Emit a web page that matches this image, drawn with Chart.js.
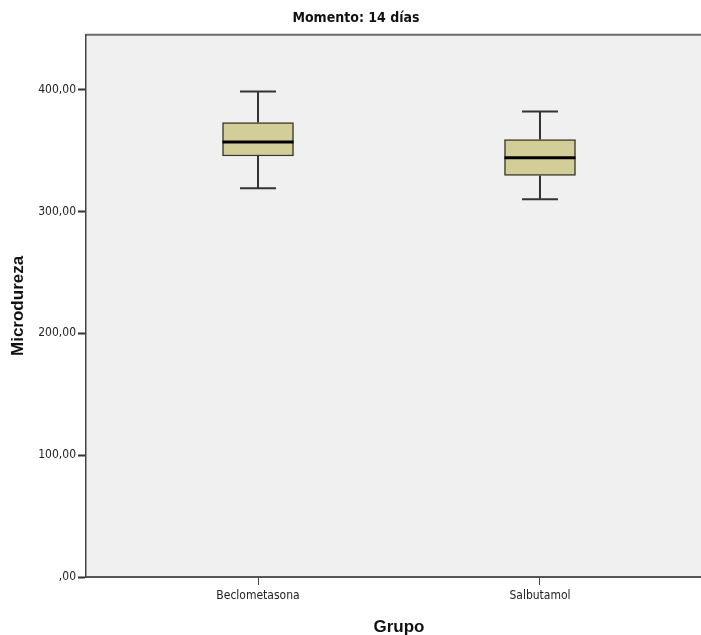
<!DOCTYPE html>
<html>
<head>
<meta charset="utf-8">
<script src="https://cdn.jsdelivr.net/npm/chart.js@4.4.1/dist/chart.umd.min.js"></script>
<style>
  html, body { margin: 0; padding: 0; background: #fff; overflow: hidden; }
  #wrap { width: 712px; height: 635px; }
</style>
</head>
<body>
<div id="wrap"><canvas id="myChart"></canvas></div>
<script>
// datos
const categories = ['Beclometasona', 'Salbutamol'];
const whiskerLow = [319, 310];
const q1 = [345.5, 329.5];
const median = [357, 344];
const q3 = [373, 359];
const whiskerHigh = [398.5, 382];
const yTicks = [0, 100, 200, 300, 400];

const narrow = "'Liberation Sans Narrow', 'DejaVu Sans Condensed', Arial, sans-serif";

// fondo gris del área y borde superior
const plotBg = {
    id: 'plotBg',
    beforeDraw(chart) {
        const { ctx, chartArea: a } = chart;
        ctx.save();
        ctx.fillStyle = '#f0f0f0';
        ctx.fillRect(a.left, a.top, a.right - a.left, a.bottom - a.top);
        ctx.strokeStyle = '#6a6a6a';
        ctx.lineWidth = 2;
        ctx.beginPath();
        ctx.moveTo(a.left, a.top);
        ctx.lineTo(a.right, a.top);
        ctx.stroke();
        ctx.restore();
    }
};

// bigotes y mediana
const whiskers = {
    id: 'whiskers',
    afterDatasetsDraw(chart) {
        const { ctx, scales: { x, y } } = chart;
        ctx.save();
        categories.forEach((c, i) => {
            const px = x.getPixelForValue(i + 1);
            ctx.strokeStyle = '#333';
            ctx.lineWidth = 2;
            ctx.beginPath();
            ctx.moveTo(px, y.getPixelForValue(whiskerLow[i]));
            ctx.lineTo(px, y.getPixelForValue(q1[i]));
            ctx.moveTo(px, y.getPixelForValue(q3[i]));
            ctx.lineTo(px, y.getPixelForValue(whiskerHigh[i]));
            ctx.moveTo(px - 18, y.getPixelForValue(whiskerLow[i]));
            ctx.lineTo(px + 18, y.getPixelForValue(whiskerLow[i]));
            ctx.moveTo(px - 18, y.getPixelForValue(whiskerHigh[i]));
            ctx.lineTo(px + 18, y.getPixelForValue(whiskerHigh[i]));
            ctx.stroke();
            ctx.strokeStyle = '#000';
            ctx.lineWidth = 3;
            ctx.beginPath();
            ctx.moveTo(px - 35.5, y.getPixelForValue(median[i]));
            ctx.lineTo(px + 35.5, y.getPixelForValue(median[i]));
            ctx.stroke();
        });
        ctx.restore();
    }
};

const ctx = document.getElementById('myChart').getContext('2d');
const myChart = new Chart(ctx, {
    type: 'bar',
    data: {
        datasets: [{
            data: categories.map((c, i) => ({ x: i + 1, y: [q1[i], q3[i]] })),
            backgroundColor: '#d3ce97',
            borderColor: '#3a3a2a',
            borderWidth: 1.5,
            borderSkipped: false,
            barThickness: 71
        }]
    },
    options: {
        responsive: true,
        maintainAspectRatio: false,
        animation: false,
        layout: { padding: 0 },
        plugins: {
            legend: { display: false },
            tooltip: { enabled: false },
            title: {
                display: true,
                text: 'Momento: 14 días',
                color: '#111',
                font: { family: narrow, size: 14, weight: 'bold' },
                padding: { top: 10, bottom: 8 }
            }
        },
        scales: {
            x: {
                type: 'linear',
                offset: false,
                min: 0.39,
                max: 2.61,
                afterBuildTicks: s => { s.ticks = categories.map((c, i) => ({ value: i + 1 })); },
                afterFit: s => { s.height = 58; },
                grid: { offset: false, drawOnChartArea: false, tickLength: 8, color: '#444', tickWidth: 1 },
                border: { color: '#555', width: 2 },
                ticks: {
                    padding: 4,
                    color: '#222',
                    font: { family: narrow, size: 12 },
                    callback: v => categories[v - 1]
                },
                title: {
                    display: true,
                    text: 'Grupo',
                    color: '#111',
                    font: { family: 'Arial, Liberation Sans, sans-serif', size: 17, weight: 'bold' },
                    padding: { top: 0, bottom: -3 }
                }
            },
            y: {
                min: 0,
                max: 445,
                afterBuildTicks: s => { s.ticks = yTicks.map(v => ({ value: v })); },
                afterFit: s => { s.width = 86; },
                grid: { drawOnChartArea: false, tickLength: 8, color: '#333', tickWidth: 2 },
                border: { color: '#444', width: 1.5 },
                ticks: {
                    padding: 2,
                    color: '#222',
                    font: { family: narrow, size: 12 },
                    callback: v => v === 0 ? ',00' : v.toFixed(2).replace('.', ',')
                },
                title: {
                    display: true,
                    text: 'Microdureza',
                    color: '#111',
                    font: { family: 'Arial, Liberation Sans, sans-serif', size: 17, weight: 'bold' },
                    padding: { top: 8, bottom: 0 }
                }
            }
        }
    },
    plugins: [plotBg, whiskers]
});
</script>
</body>
</html>
